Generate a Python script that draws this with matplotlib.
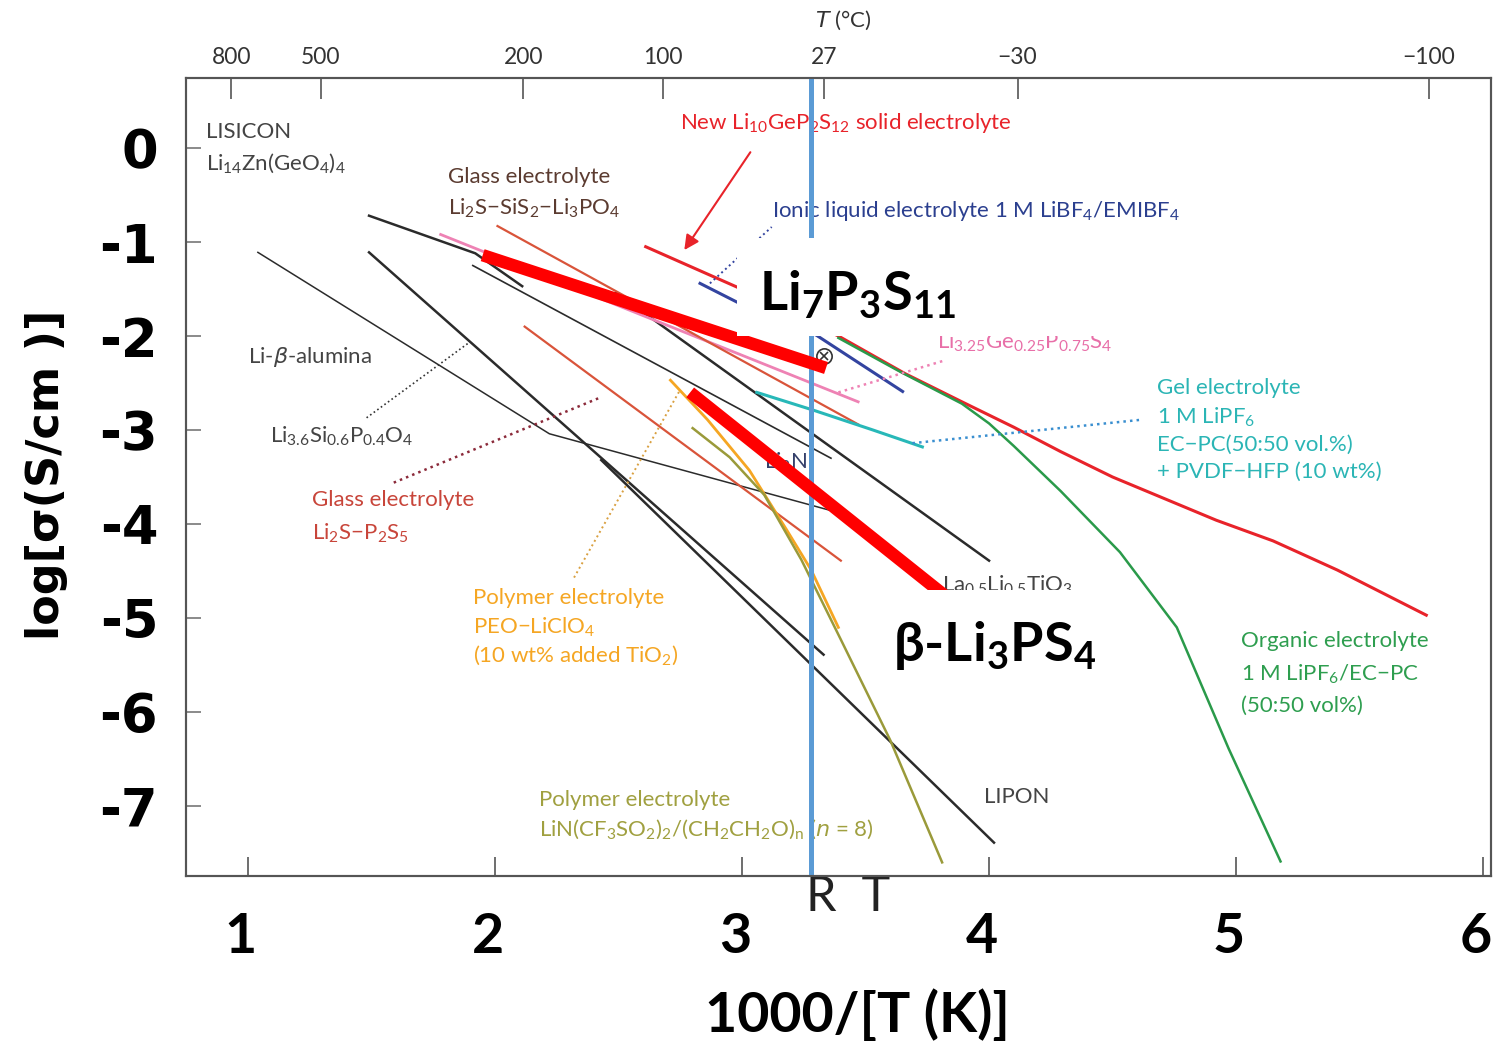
import matplotlib.pyplot as plt
from matplotlib.patches import Rectangle
from matplotlib.transforms import ScaledTranslation

plt.rcParams['mathtext.default'] = 'regular'
plt.rcParams['axes.unicode_minus'] = False

SMALL = ['Lato', 'DejaVu Sans']
BIG = ['Lato', 'DejaVu Sans']

# ---- data: x = 1000/T (K), y = log sigma (S/cm)
lisicon_x = [1.49, 1.92, 2.11]
lisicon_y = [-0.72, -1.12, -1.47]
alumina_x = [1.04, 2.22, 3.35]
alumina_y = [-1.11, -3.04, -3.85]
lisipo_x = [1.49, 3.33]
lisipo_y = [-1.11, -5.39]
lipon_x = [2.43, 4.02]
lipon_y = [-3.32, -7.39]
li3n_x = [1.91, 3.36]
li3n_y = [-1.25, -3.30]
llto_x = [2.49, 4.00]
llto_y = [-1.54, -4.39]
ligeps_x = [1.78, 3.47]
ligeps_y = [-0.92, -2.70]
glass_sis_x = [2.01, 3.47]
glass_sis_y = [-0.83, -2.94]
glass_ps_x = [2.12, 3.40]
glass_ps_y = [-1.90, -4.39]
lgps_x = [2.61, 2.98, 3.39, 3.66, 3.89, 4.10, 4.29, 4.50, 4.71, 4.92, 5.15, 5.41, 5.77]
lgps_y = [-1.05, -1.48, -2.00, -2.40, -2.70, -2.97, -3.23, -3.50, -3.73, -3.96, -4.18, -4.49, -4.97]
organic_x = [3.39, 3.64, 3.89, 4.00, 4.10, 4.29, 4.53, 4.76, 4.97, 5.18]
organic_y = [-2.02, -2.38, -2.72, -2.93, -3.17, -3.65, -4.30, -5.10, -6.39, -7.59]
ionic_x = [2.83, 2.98, 3.30, 3.65]
ionic_y = [-1.44, -1.64, -1.99, -2.59]
gel_x = [3.06, 3.29, 3.53, 3.73]
gel_y = [-2.60, -2.79, -3.00, -3.18]
peo_x = [2.71, 2.86, 3.03, 3.18, 3.28, 3.39]
peo_y = [-2.47, -2.89, -3.43, -4.06, -4.49, -5.10]
litfsi_x = [2.80, 2.95, 3.09, 3.24, 3.40, 3.60, 3.81]
litfsi_y = [-2.98, -3.29, -3.69, -4.38, -5.23, -6.30, -7.60]

# overlay lines
lps711_x = [1.95, 3.34]
lps711_y = [-1.14, -2.34]
blps_x = [2.79, 3.82]
blps_y = [-2.60, -4.76]
rt_x = 3.28

xticks = [1, 2, 3, 4, 5, 6]
yticks = [0, -1, -2, -3, -4, -5, -6, -7]
temps_c = [800, 500, 200, 100, 27, -30, -100]

fig = plt.figure(figsize=(14.95, 10.44), dpi=100)
ax = fig.add_axes([186/1495, 1-876/1044, (1491-186)/1495, (876-78)/1044])
ax.set_xlim(0.749, 6.032)
ax.set_ylim(-7.745, 0.745)

K = '#2b2b2b'
ax.plot(lisicon_x, lisicon_y, color=K, lw=1.8)
ax.plot(alumina_x, alumina_y, color=K, lw=1.1)
ax.plot(lisipo_x, lisipo_y, color=K, lw=1.8)
ax.plot(lipon_x, lipon_y, color=K, lw=1.8)
ax.plot(li3n_x, li3n_y, color=K, lw=1.2)
ax.plot(llto_x, llto_y, color=K, lw=1.8)
ax.plot(ligeps_x, ligeps_y, color='#ee82b4', lw=2)
ax.plot(glass_sis_x, glass_sis_y, color='#d9543a', lw=1.6)
ax.plot(glass_ps_x, glass_ps_y, color='#d9543a', lw=1.6)
ax.plot(lgps_x, lgps_y, color='#e8232a', lw=2.2)
ax.plot(organic_x, organic_y, color='#2a9a4a', lw=1.8)
ax.plot(ionic_x, ionic_y, color='#3344a0', lw=2.2)
ax.plot(gel_x, gel_y, color='#28b8b8', lw=2.2)
ax.plot(peo_x, peo_y, color='#f5a623', lw=2)
ax.plot(litfsi_x, litfsi_y, color='#9a9a3a', lw=1.8)

# dotted leaders
ax.plot([1.48, 1.90], [-2.87, -2.06], ls=':', color='#333', lw=1.2)
ax.plot([1.59, 2.43], [-3.56, -2.65], ls=':', color='#8b2a3a', lw=1.8)
ax.plot([2.32, 2.75], [-4.57, -2.57], ls=':', color='#d9a040', lw=1.4)
ax.plot([3.39, 3.82], [-2.60, -2.26], ls=':', color='#ee82b4', lw=1.8)
ax.plot([3.69, 4.62], [-3.14, -2.89], ls=':', color='#3a8fd0', lw=1.8)
ax.plot([2.87, 3.12], [-1.44, -0.84], ls=':', color='#3344a0', lw=1.4)
ax.annotate('', xy=(2.76, -1.11), xytext=(3.04, -0.02),
            arrowprops=dict(arrowstyle='-|>', color='#e8232a', lw=1.5, mutation_scale=22))
ax.plot([3.33], [-2.21], marker='o', ms=11, mfc='white', mec='#333', mew=1.2, zorder=3)
ax.plot([3.33], [-2.21], marker='x', ms=6, mec='#333', mew=1.2, zorder=3)

# small labels
def lab(x, y, s, c, va='center'):
    ax.text(x, y, s, color=c, fontsize=16, family=SMALL, va=va, ha='left', zorder=2.5)

lab(0.83, 0.17, 'LISICON', '#444')
lab(0.83, -0.16, 'Li$_{14}$Zn(GeO$_4$)$_4$', '#444')
lab(1.81, -0.31, 'Glass electrolyte', '#5b3b30')
lab(1.81, -0.64, 'Li$_2$S\u2212SiS$_2$\u2212Li$_3$PO$_4$', '#5b3b30')
lab(2.75, 0.27, 'New Li$_{10}$GeP$_2$S$_{12}$ solid electrolyte', '#e8232a')
lab(3.12, -0.67, 'Ionic liquid electrolyte 1 M LiBF$_4$/EMIBF$_4$', '#2b3f8f')
lab(1.0, -2.22, 'Li-$\\mathit{\\beta}$-alumina', '#444')
lab(1.09, -3.07, 'Li$_{3.6}$Si$_{0.6}$P$_{0.4}$O$_4$', '#444')
lab(1.26, -3.75, 'Glass electrolyte', '#c8453a')
lab(1.26, -4.10, 'Li$_2$S\u2212P$_2$S$_5$', '#c8453a')
lab(3.79, -2.14, 'Li$_{3.25}$Ge$_{0.25}$P$_{0.75}$S$_4$', '#e86fa8', va='baseline')
lab(4.68, -2.55, 'Gel electrolyte', '#2bb5b5')
lab(4.68, -2.87, '1 M LiPF$_6$', '#2bb5b5')
lab(4.68, -3.16, 'EC\u2212PC(50:50 vol.%)', '#2bb5b5')
lab(4.68, -3.45, '+ PVDF\u2212HFP (10 wt%)', '#2bb5b5')
lab(3.09, -3.34, 'Li$_3$N', '#35406a')
lab(3.81, -4.72, 'La$_{0.5}$Li$_{0.5}$TiO$_3$', '#444', va='baseline')
lab(1.91, -4.79, 'Polymer electrolyte', '#f5a623')
lab(1.91, -5.10, 'PEO\u2212LiClO$_4$', '#f5a623')
lab(1.91, -5.40, '(10 wt% added TiO$_2$)', '#f5a623')
lab(5.02, -5.25, 'Organic electrolyte', '#2e9e4f')
lab(5.02, -5.60, '1 M LiPF$_6$/EC\u2212PC', '#2e9e4f')
lab(5.02, -5.93, '(50:50 vol%)', '#2e9e4f')
lab(3.98, -6.90, 'LIPON', '#444')
lab(2.18, -6.94, 'Polymer electrolyte', '#a0a040')
lab(2.18, -7.25, 'LiN(CF$_3$SO$_2$)$_2$/(CH$_2$CH$_2$O)$_n$ ($\\mathit{n}$ = 8)', '#a0a040')

# overlay: RT line, thick red lines, white label boxes
ax.axvline(rt_x, color='#5b9bd5', lw=3.6, zorder=3)
ax.plot(lps711_x, lps711_y, color='red', lw=9, solid_capstyle='butt', zorder=4)
ax.plot(blps_x, blps_y, color='red', lw=9, solid_capstyle='butt', zorder=4)
ax.add_patch(Rectangle((2.98, -2.0), 1.61, 1.04, facecolor='white', edgecolor='none', zorder=5))
ax.add_patch(Rectangle((3.60, -5.71), 0.85, 1.01, facecolor='white', edgecolor='none', zorder=5))
ax.text(3.07, -1.56, 'Li$_7$P$_3$S$_{11}$', fontsize=39, fontweight='bold', family=BIG,
        va='center', ha='left', zorder=6)
ax.text(3.61, -5.29, '\u03b2-Li$_3$PS$_4$', fontsize=39, fontweight='bold', family=BIG,
        va='center', ha='left', zorder=6)
ax.text(3.26, -7.97, 'R  T', fontsize=35, family=BIG, color='#222', va='center', ha='left',
        clip_on=False, zorder=6)

# axes styling
for sp in ax.spines.values():
    sp.set_color('#555')
    sp.set_linewidth(1.5)
ax.set_xticks(xticks, labels=[str(v) for v in xticks])
ax.set_yticks(yticks, labels=[str(v) for v in yticks])
ax.tick_params(axis='x', direction='in', length=14, width=1.2, color='#555', pad=26,
               labelsize=40)
ax.tick_params(axis='y', direction='in', length=11, width=1.2, color='#777', pad=20,
               labelsize=38)
shift = ScaledTranslation(-0.07, 0, fig.dpi_scale_trans)
for t in ax.get_xticklabels():
    t.set_fontweight('bold')
    t.set_family(BIG)
    t.set_transform(t.get_transform() + shift)
for t in ax.get_yticklabels():
    t.set_fontweight('bold')
    t.set_family('DejaVu Sans')

ax2 = ax.twiny()
ax2.set_xlim(ax.get_xlim())
ax2.set_xticks([1000 / (t + 273) for t in temps_c],
               labels=[str(t).replace('-', '\u2212') for t in temps_c])
ax2.tick_params(axis='x', direction='in', length=15, width=1.2, color='#555', pad=7,
                labelsize=16.5, labelcolor='#333')
for t in ax2.get_xticklabels():
    t.set_family(SMALL)
for sp in ax2.spines.values():
    sp.set_color('#555')
    sp.set_linewidth(1.5)

fig.text(843/1495, 1-20/1044, '$\\mathit{T}$ (\u00b0C)', fontsize=16, family=SMALL,
         color='#333', ha='center', va='center')
fig.text(47/1495, 1-475/1044, 'log[\u03c3(S/cm )]', fontsize=32, fontweight='bold',
         family='DejaVu Sans', rotation=90, ha='center', va='center')
fig.text(857/1495, 1-1015/1044, '1000/[T (K)]', fontsize=40, fontweight='bold', family=BIG,
         ha='center', va='center')

fig.savefig('out.png', dpi=100)
